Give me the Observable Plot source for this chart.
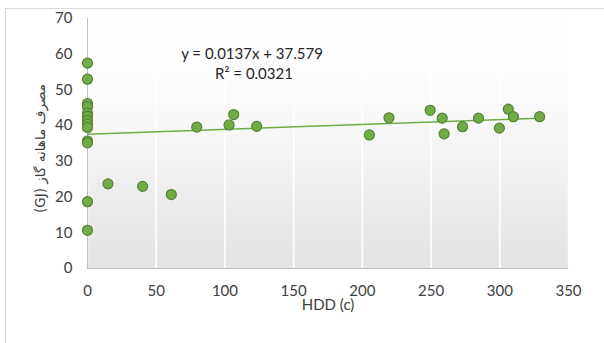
<!DOCTYPE html>
<html>
<head>
<meta charset="utf-8">
<script src="https://cdn.jsdelivr.net/npm/d3@7"></script>
<script src="https://cdn.jsdelivr.net/npm/@observablehq/plot@0.6"></script>
<style>
  html, body { margin: 0; padding: 0; background: #fff; }
  #wrap { position: relative; width: 604px; height: 343px; overflow: hidden; }
  #border { position: absolute; left: 5px; top: 8px; width: 600px; height: 340px; border: 1px solid #d9d9d9; box-sizing: border-box; }
  #chart { position: absolute; left: 0; top: 0; }
</style>
</head>
<body>
<div id="wrap"><div id="border"></div><div id="chart"></div></div>
<script>
// Data
const hdd = [0,0,0,0,0,0,0,0,0,0,0,0,0,
  14.9,40.1,61.0,79.5,103.0,106.4,123.1,205.1,219.4,249.3,258.1,259.5,272.9,284.5,299.7,306.2,309.9,329.0];
const gas = [57.5,53.0,46.2,45.3,43.5,42.6,41.5,40.5,39.5,35.7,35.2,18.7,10.7,
  23.7,23.0,20.7,39.6,40.2,43.1,39.8,37.4,42.2,44.3,42.1,37.7,39.7,42.1,39.3,44.6,42.5,42.5];
const xTicks = [0,50,100,150,200,250,300,350];
const yTicks = [0,10,20,30,40,50,60,70];
const slope = 0.0137;
const intercept = 37.579;
const eqLine1 = "y = 0.0137x + 37.579";
const eqLine2 = "R² = 0.0321";
const xTitle = "HDD (c)";
const yTitle = "مصرف ماهانه گاز (GJ)";

const points = hdd.map((h, i) => ({hdd: h, gas: gas[i]}));
const xMin = d3.min(hdd), xMax = d3.max(hdd);
const trend = [xMin, xMax].map(x => ({x, y: slope * x + intercept}));

const green = "#70AD47";
const svg = Plot.plot({
  width: 604, height: 343,
  marginLeft: 87, marginRight: 36, marginTop: 18, marginBottom: 75,
  style: {fontFamily: "Lato, 'DejaVu Sans', sans-serif", fontSize: "15px", color: "#404040", background: "transparent", overflow: "visible"},
  x: {domain: [0, 350]},
  y: {domain: [0, 70]},
  marks: [
    Plot.frame({fill: "url(#plotBg)", stroke: null}),
    Plot.gridX(xTicks, {stroke: "#ffffff", strokeOpacity: 1, strokeWidth: 1.5}),
    Plot.ruleX([0], {stroke: "#bfbfbf", strokeWidth: 1}),
    Plot.ruleY([0], {stroke: "#bfbfbf", strokeWidth: 1}),
    Plot.axisX(xTicks, {tickSize: 0, tickPadding: 17, label: null, fill: "#404040"}),
    Plot.axisY(yTicks, {tickSize: 0, tickPadding: 15, label: null, fill: "#404040"}),
    Plot.lineY(trend, {x: "x", y: "y", stroke: green, strokeWidth: 1.5}),
    Plot.dot(points, {x: "hdd", y: "gas", r: 5, fill: green, fillOpacity: 1, stroke: "#548235", strokeWidth: 1.2}),
    Plot.text([eqLine1], {frameAnchor: "top", dx: -76, dy: 30, fontSize: 15, fill: "#262626"}),
    Plot.text([eqLine2], {frameAnchor: "top", dx: -74, dy: 50, fontSize: 15, fill: "#262626"}),
    Plot.text([xTitle], {frameAnchor: "bottom", dy: 41, fontSize: 15, fill: "#404040"}),
    Plot.text([yTitle], {frameAnchor: "left", textAnchor: "middle", dx: -47, dy: 5, rotate: -90, fontSize: 13.5, fill: "#404040", fontFamily: "'DejaVu Sans', sans-serif"})
  ]
});

d3.select(svg).selectAll("text").filter(function() { return this.textContent === yTitle; })
  .attr("direction", "rtl").style("direction", "rtl").attr("unicode-bidi", "embed");

const defs = d3.select(svg).insert("defs", ":first-child");
const grad = defs.append("linearGradient").attr("id", "plotBg")
  .attr("x1", 0).attr("y1", 0).attr("x2", 0).attr("y2", 1);
grad.append("stop").attr("offset", "0%").attr("stop-color", "#ffffff");
grad.append("stop").attr("offset", "30%").attr("stop-color", "#fcfcfc");
grad.append("stop").attr("offset", "100%").attr("stop-color", "#e3e3e3");

document.getElementById("chart").appendChild(svg);
</script>
</body>
</html>
